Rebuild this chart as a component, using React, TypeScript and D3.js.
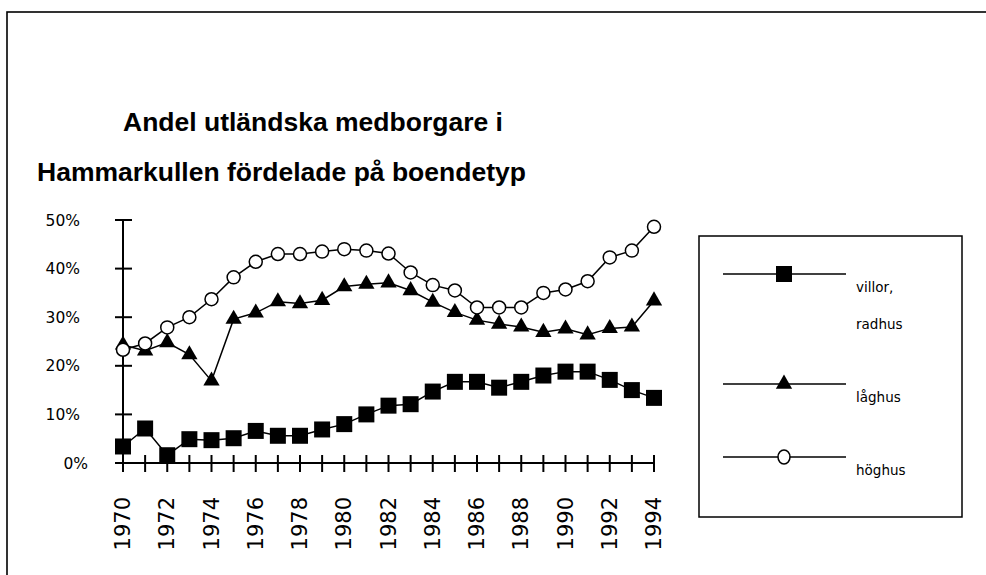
import { useEffect, useRef } from "react";
import * as d3 from "d3";

const years = d3.range(1970, 1995);
const yearLabels = years.filter((y) => y % 2 === 0);
const percentTicks = [0, 10, 20, 30, 40, 50];

// andel (%) per boendetyp
const villor = [3.4, 7.1, 1.6, 4.9, 4.7, 5.1, 6.6, 5.6, 5.6, 6.9, 8.0, 10.0, 11.8, 12.1, 14.7, 16.7, 16.7, 15.5, 16.7, 18.0, 18.8, 18.8, 17.1, 15.0, 13.4];
const laghus = [24.3, 23.1, 24.8, 22.3, 16.9, 29.6, 30.9, 33.2, 32.8, 33.5, 36.3, 36.8, 37.1, 35.5, 33.1, 31.0, 29.4, 28.6, 28.0, 26.9, 27.6, 26.4, 27.7, 28.0, 33.4];
const hoghus = [23.3, 24.6, 27.9, 30.0, 33.7, 38.2, 41.4, 43.0, 43.0, 43.5, 44.0, 43.7, 43.1, 39.2, 36.6, 35.5, 32.0, 32.0, 32.0, 35.0, 35.7, 37.4, 42.3, 43.7, 48.6];

const titleLines = ["Andel utländska medborgare i", "Hammarkullen fördelade på boendetyp"];
const legendLabels = [["villor,", "radhus"], ["låghus"], ["höghus"]];

const FONT = "'DejaVu Sans', Verdana, sans-serif";

export default function App() {
  const svgRef = useRef<SVGSVGElement>(null);

  useEffect(() => {
    if (!svgRef.current) return;
    const width = 986;
    const height = 575;
    const svg = d3.select(svgRef.current);
    svg.selectAll("*").remove();

    const x = d3.scaleLinear().domain([1970, 1994]).range([123, 654]);
    const y = d3.scaleLinear().domain([0, 50]).range([463, 220]);

    // outer frame
    svg
      .append("rect")
      .attr("x", 7)
      .attr("y", 12)
      .attr("width", width)
      .attr("height", height)
      .attr("fill", "none")
      .attr("stroke", "#000")
      .attr("stroke-width", 1.6);

    // title
    svg
      .append("g")
      .attr("font-family", "'Liberation Sans', Arial, sans-serif")
      .attr("font-weight", "bold")
      .attr("font-size", 26.5)
      .selectAll("text")
      .data(titleLines)
      .join("text")
      .attr("x", (d, i) => (i === 0 ? 123 : 37))
      .attr("y", (d, i) => (i === 0 ? 131 : 181))
      .text((d) => d);

    // y axis
    const yAxis = svg.append("g");
    yAxis
      .append("line")
      .attr("x1", x(1970))
      .attr("x2", x(1970))
      .attr("y1", y(50))
      .attr("y2", y(0))
      .attr("stroke", "#000")
      .attr("stroke-width", 2);
    yAxis
      .selectAll("line.tick")
      .data(percentTicks)
      .join("line")
      .attr("class", "tick")
      .attr("x1", x(1970) - 8)
      .attr("x2", x(1970) + 9)
      .attr("y1", (d) => y(d))
      .attr("y2", (d) => y(d))
      .attr("stroke", "#000")
      .attr("stroke-width", 2);
    yAxis
      .selectAll("text")
      .data(percentTicks)
      .join("text")
      .attr("x", (d) => (d === 0 ? 88 : 80))
      .attr("y", (d) => y(d))
      .attr("dy", "0.36em")
      .attr("text-anchor", "end")
      .attr("font-family", FONT)
      .attr("font-size", 15.5)
      .text((d) => `${d}%`);

    // x axis
    const xAxis = svg.append("g");
    xAxis
      .append("line")
      .attr("x1", x(1970) - 8)
      .attr("x2", x(1994))
      .attr("y1", y(0))
      .attr("y2", y(0))
      .attr("stroke", "#000")
      .attr("stroke-width", 2);
    xAxis
      .selectAll("line.tick")
      .data(years)
      .join("line")
      .attr("class", "tick")
      .attr("x1", (d) => x(d))
      .attr("x2", (d) => x(d))
      .attr("y1", y(0) - 8)
      .attr("y2", y(0) + 9)
      .attr("stroke", "#000")
      .attr("stroke-width", 2);
    xAxis
      .selectAll("text")
      .data(yearLabels)
      .join("text")
      .attr("transform", (d) => `translate(${x(d)},497) rotate(-90)`)
      .attr("text-anchor", "end")
      .attr("dominant-baseline", "central")
      .attr("font-family", FONT)
      .attr("font-size", 21)
      .text((d) => String(d));

    const line = d3
      .line<number>()
      .x((d, i) => x(years[i]))
      .y((d) => y(d));

    const square = d3.symbol(d3.symbolSquare, 256)();
    const triangle = d3.symbol(d3.symbolTriangle, 115)();

    // villor, radhus
    svg
      .append("path")
      .datum(villor)
      .attr("fill", "none")
      .attr("stroke", "#000")
      .attr("stroke-width", 1.5)
      .attr("d", line);
    svg
      .append("g")
      .selectAll("path")
      .data(villor)
      .join("path")
      .attr("transform", (d, i) => `translate(${x(years[i])},${y(d)})`)
      .attr("d", square)
      .attr("fill", "#000");

    // låghus
    svg
      .append("path")
      .datum(laghus)
      .attr("fill", "none")
      .attr("stroke", "#000")
      .attr("stroke-width", 1.5)
      .attr("d", line);
    svg
      .append("g")
      .selectAll("path")
      .data(laghus)
      .join("path")
      .attr("transform", (d, i) => `translate(${x(years[i])},${y(d)})`)
      .attr("d", triangle)
      .attr("fill", "#000");

    // höghus
    svg
      .append("path")
      .datum(hoghus)
      .attr("fill", "none")
      .attr("stroke", "#000")
      .attr("stroke-width", 1.5)
      .attr("d", line);
    svg
      .append("g")
      .selectAll("circle")
      .data(hoghus)
      .join("circle")
      .attr("cx", (d, i) => x(years[i]))
      .attr("cy", (d) => y(d))
      .attr("r", 6.5)
      .attr("fill", "#fff")
      .attr("stroke", "#000")
      .attr("stroke-width", 1.5);

    // legend
    const legend = svg.append("g");
    legend
      .append("rect")
      .attr("x", 699)
      .attr("y", 236)
      .attr("width", 263)
      .attr("height", 281)
      .attr("fill", "none")
      .attr("stroke", "#000")
      .attr("stroke-width", 1.5);

    const rowY = [274, 384, 457];
    rowY.forEach((ry, i) => {
      legend
        .append("line")
        .attr("x1", 723)
        .attr("x2", 846)
        .attr("y1", ry)
        .attr("y2", ry)
        .attr("stroke", "#000")
        .attr("stroke-width", 1.5);
      if (i === 0) {
        legend.append("path").attr("transform", `translate(784,${ry})`).attr("d", square).attr("fill", "#000");
      } else if (i === 1) {
        legend.append("path").attr("transform", `translate(784,${ry})`).attr("d", triangle).attr("fill", "#000");
      } else {
        legend
          .append("ellipse")
          .attr("cx", 784)
          .attr("cy", ry)
          .attr("rx", 6)
          .attr("ry", 7)
          .attr("fill", "#fff")
          .attr("stroke", "#000")
          .attr("stroke-width", 1.5);
      }
      legendLabels[i].forEach((t, j) => {
        legend
          .append("text")
          .attr("x", 856)
          .attr("y", ry + 18 + j * 37)
          .attr("font-family", FONT)
          .attr("font-size", 13.5)
          .text(t);
      });
    });
  }, []);

  return (
    <svg
      ref={svgRef}
      width={986}
      height={575}
      style={{ position: "absolute", left: 0, top: 0, background: "#fff" }}
    />
  );
}
